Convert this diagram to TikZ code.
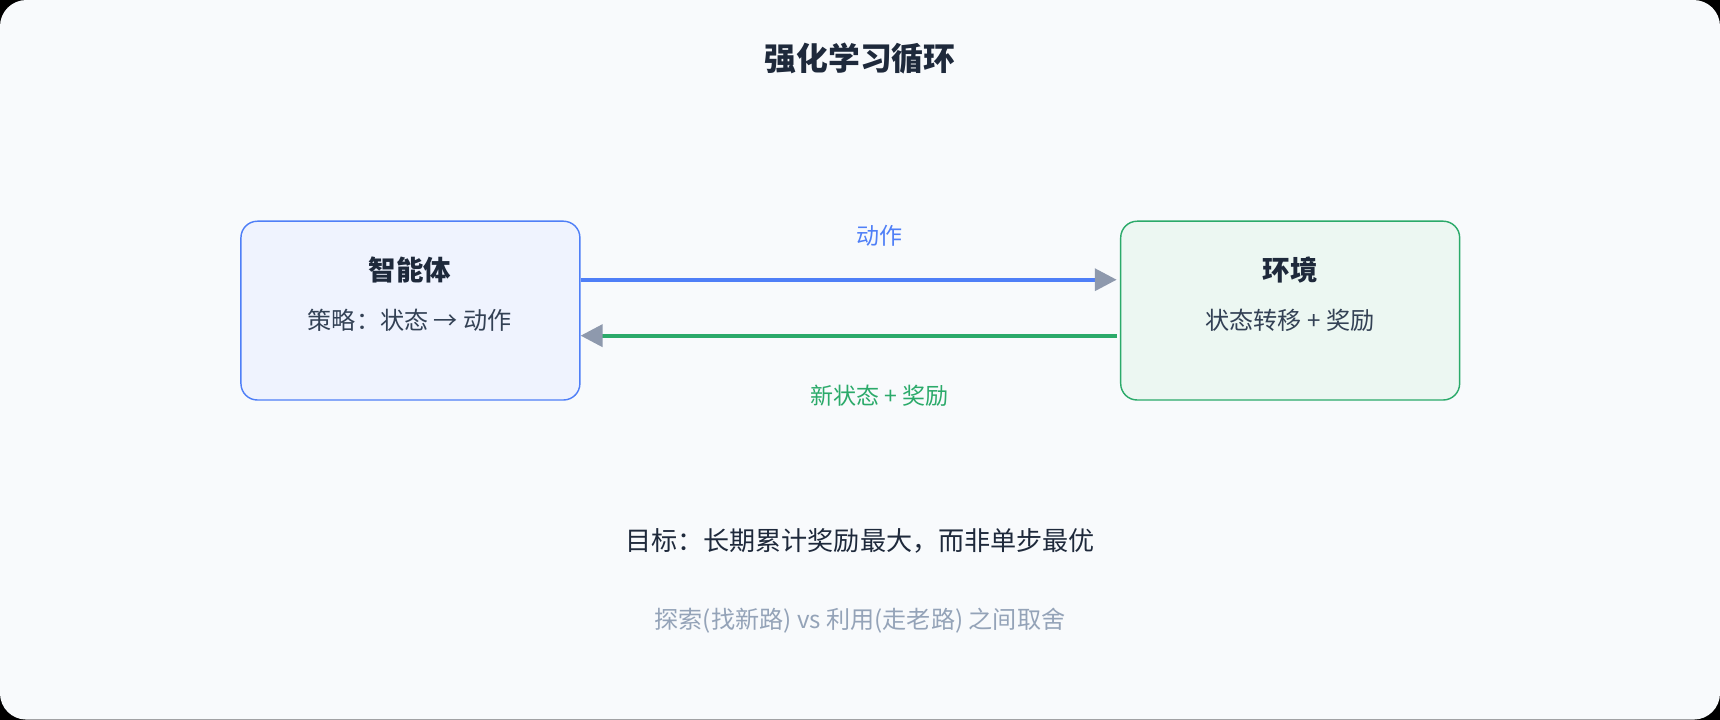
\documentclass[tikz,border=0pt]{standalone}
\usepackage{fontspec}
\setmainfont{Noto Sans CJK SC}
\usetikzlibrary{arrows.meta}
\definecolor{bg}{HTML}{F8FAFC}
\definecolor{dark}{HTML}{1E293B}
\definecolor{body}{HTML}{334155}
\definecolor{blu}{HTML}{4F7FF7}
\definecolor{grn}{HTML}{2BAA6A}
\definecolor{gry}{HTML}{94A3B8}
\definecolor{ahead}{HTML}{8E99AD}
\begin{document}
\begin{tikzpicture}[x=1pt,y=-1pt,
  box/.style={draw, rounded corners=15pt, line width=1.3pt, minimum width=309pt, minimum height=163pt, anchor=north west},
  lbl/.style={font=\fontsize{21}{24}\selectfont},
  arr/.style={line width=3.5pt, -{Triangle[length=20pt,width=20pt,color=ahead]}}]
\fill[black] (0,0) rectangle (1568,656);
\useasboundingbox (0,0) rectangle (1568,656);
\fill[bg] (0,0) [rounded corners=24pt] rectangle (1568,656);
\node[font=\fontsize{29}{34}\selectfont\bfseries, text=dark] (title) at (784,53) {强化学习循环};
\node[box, draw=blu, fill=blu!9] (agent) at (219,201) {};
\node[box, draw=grn, fill=grn!9] (env) at (1021,201) {};
\node[font=\fontsize{25}{30}\selectfont\bfseries, text=dark] (at) at (373.5,246) {智能体};
\node[font=\fontsize{22}{26}\selectfont, text=body] (ab) at (373.5,292) {策略：状态 → 动作};
\node[font=\fontsize{25}{30}\selectfont\bfseries, text=dark] (et) at (1176,246) {环境};
\node[font=\fontsize{22}{26}\selectfont, text=body] (eb) at (1176,292) {状态转移 + 奖励};
\coordinate (a1) at (agent.north east |- 0,255);
\coordinate (e1) at (1018,255);
\coordinate (e2) at (1018,306);
\coordinate (a2) at (agent.north east |- 0,306);
\draw[arr, draw=blu] (a1) -- (e1);
\draw[arr, draw=grn] (e2) -- (a2);
\node[lbl, text=blu] (l1) at (802,215) {动作};
\node[lbl, text=grn] (l2) at (802,361) {新状态 + 奖励};
\node[font=\fontsize{23.8}{28}\selectfont, text=dark] (goal) at (784,493) {目标：长期累计奖励最大，而非单步最优};
\node[font=\fontsize{22}{26}\selectfont, text=gry] (note) at (784,566) {探索(找新路) vs 利用(走老路) 之间取舍};
\end{tikzpicture}
\end{document}
